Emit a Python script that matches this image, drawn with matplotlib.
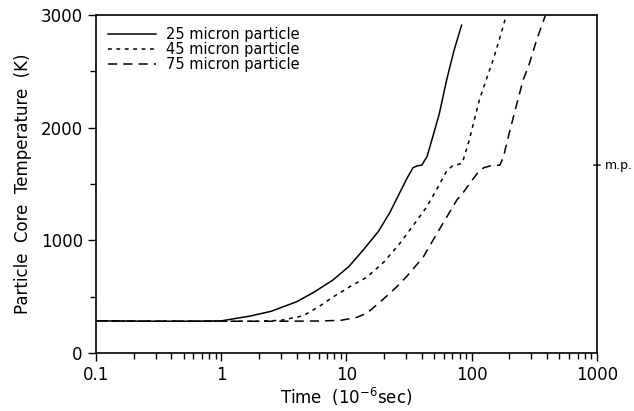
import numpy as np
import matplotlib.pyplot as plt
from matplotlib.ticker import FixedLocator, NullFormatter

# time in 1e-6 sec, temperature in K
t25 = [0.1, 0.3, 0.6, 1.0, 1.7, 2.5, 4.0, 5.5, 7.8, 10.5, 13.6, 18.0, 22.3, 26.0, 30.5, 34.0, 36.5, 40.0, 44.0, 48.3, 55.0, 63.0, 72.0, 83.0]
T25 = [285, 282, 282, 285, 328, 370, 455, 540, 648, 770, 914, 1080, 1251, 1400, 1553, 1645, 1660, 1668, 1745, 1900, 2120, 2422, 2680, 2910]

t45 = [0.1, 0.3, 0.6, 1.0, 2.0, 3.0, 4.5, 6.0, 7.8, 10.5, 14.6, 20.0, 26.8, 34.0, 43.7, 53.0, 63.0, 70.0, 76.0, 84.0, 95.0, 115.0, 130.0, 150.0, 170.0, 188.0]
T45 = [285, 282, 282, 282, 282, 290, 330, 410, 497, 585, 674, 810, 976, 1130, 1296, 1460, 1615, 1660, 1670, 1685, 1880, 2245, 2420, 2620, 2820, 2990]

t75 = [0.1, 0.3, 1.0, 3.0, 6.0, 9.0, 12.0, 14.6, 18.0, 22.3, 27.0, 32.0, 41.0, 53.0, 65.0, 76.0, 85.0, 100.0, 113.0, 125.0, 140.0, 168.0, 180.0, 195.0, 215.0, 257.0, 287.0, 330.0, 387.0]
T75 = [285, 282, 282, 282, 284, 290, 315, 355, 440, 532, 620, 710, 852, 1065, 1230, 1357, 1420, 1530, 1606, 1645, 1660, 1668, 1750, 1910, 2094, 2422, 2560, 2780, 2995]

mp_value = 1668
labels = ['25 micron particle', '45 micron particle', '75 micron particle']

fig = plt.figure(figsize=(6.34, 4.11), dpi=100)
ax = fig.add_axes([0.1514, 0.1411, 0.7902, 0.8224])

ax.plot(t25, T25, color='black', lw=1.1, linestyle='-', label=labels[0])
ax.plot(t45, T45, color='black', lw=1.1, linestyle=(0, (2.5, 3)), label=labels[1])
ax.plot(t75, T75, color='black', lw=1.1, linestyle=(0, (6, 4)), label=labels[2])

ax.set_xscale('log')
ax.set_xlim(0.1, 1000)
ax.set_ylim(0, 3000)
ax.set_xticks([0.1, 1, 10, 100, 1000])
ax.set_xticklabels(['0.1', '1', '10', '100', '1000'])
ax.xaxis.set_minor_formatter(NullFormatter())
ax.set_yticks([0, 1000, 2000, 3000])
ax.yaxis.set_minor_locator(FixedLocator([500, 1500, 2500]))

ax.tick_params(axis='both', which='major', direction='out', length=6, width=1, labelsize=12, color='black')
ax.tick_params(axis='both', which='minor', direction='out', length=4, width=1)
for s in ax.spines.values():
    s.set_linewidth(1.2)

ax.set_xlabel(r'Time  (10$^{-6}$sec)', fontsize=12, labelpad=1)
ax.set_ylabel('Particle  Core  Temperature  (K)', fontsize=12, labelpad=6)

# melting point marker on right axis
ax.annotate('', xy=(1.012, mp_value), xytext=(0.988, mp_value),
            xycoords=ax.get_yaxis_transform(),
            arrowprops=dict(arrowstyle='-', color='black', lw=1))
ax.text(1.016, mp_value, 'm.p.', transform=ax.get_yaxis_transform(),
        fontsize=9, va='center', ha='left')

ax.legend(loc='upper left', frameon=False, fontsize=10.5, handlelength=3.3,
          labelspacing=0.02, borderaxespad=0.4, handletextpad=0.7)

fig.savefig('out.png', dpi=100)
